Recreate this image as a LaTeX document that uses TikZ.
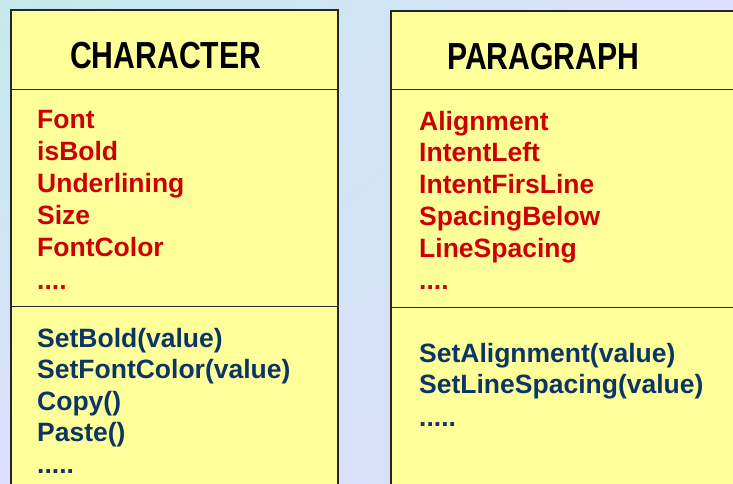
\documentclass[tikz,border=0pt]{standalone}
\usepackage{fontspec}
\usepackage{graphicx}
\usepackage{tikz}
\usetikzlibrary{positioning}
\usetikzlibrary{calc}
\usetikzlibrary{shadings}
\setmainfont{Liberation Sans}
\newcommand{\narrowtitle}[1]{\scalebox{0.8}[1]{#1}}
\definecolor{bgcyan}{HTML}{C5EAEC}
\definecolor{bglav}{HTML}{DDE0FC}
\definecolor{bgblue}{HTML}{D2E2F5}
\definecolor{boxyellow}{HTML}{FFFF99}
\definecolor{attrred}{HTML}{CC0000}
\definecolor{methblue}{HTML}{0B3566}
\tikzstyle{classbox}=[draw=black!85,fill=boxyellow,line width=1.1pt]
\tikzstyle{divider}=[draw=black!85,line width=1pt]

\begin{document}
\begin{tikzpicture}[x=1pt,y=-1pt,
  classname/.style={anchor=base west,inner sep=0pt,font=\bfseries\fontsize{37.7}{40}\selectfont},
  attr/.style={anchor=base west,inner sep=0pt,text=attrred,font=\bfseries\fontsize{26.5}{32}\selectfont},
  meth/.style={anchor=base west,inner sep=0pt,text=methblue,font=\bfseries\fontsize{26.5}{32}\selectfont}]
\useasboundingbox (0,0) rectangle (733,483);
\clip (0,0) rectangle (733,483);
\shade[upper left=bgcyan,upper right=bglav,lower left=bglav,lower right=bgblue] (0,0) rectangle (733,483);

% class CHARACTER
\draw[classbox] (11,10) rectangle (338,500);
\coordinate (C1) at (11,89);
\coordinate (C2) at (11,306);
\draw[divider] (C1) -- ++(327,0);
\draw[divider] (C2) -- ++(327,0);
\node[classname] (charname) at (70,68) {\narrowtitle{CHARACTER}};
\foreach \txt [count=\i] in {Font,isBold,Underlining,Size,FontColor}
  \node[attr] (charattr\i) at (37,{128.5+32.1*(\i-1)}) {\txt};
\node[attr] (charattr6) at (37,289) {....};
\foreach \txt [count=\i] in {SetBold(value),SetFontColor(value),Copy(),Paste()}
  \node[meth] (charmeth\i) at (37,{347+31.6*(\i-1)}) {\txt};
\node[meth] (charmeth5) at (37,473) {.....};

% class PARAGRAPH
\draw[classbox] (391,11) rectangle (750,500);
\coordinate (P1) at (391,89);
\coordinate (P2) at (391,307);
\draw[divider] (P1) -- ++(360,0);
\draw[divider] (P2) -- ++(360,0);
\node[classname] (paraname) at (447,69) {\narrowtitle{PARAGRAPH}};
\foreach \txt [count=\i] in {Alignment,IntentLeft,IntentFirsLine,SpacingBelow,LineSpacing}
  \node[attr] (paraattr\i) at (419,{130+31.8*(\i-1)}) {\txt};
\node[attr] (paraattr6) at (419,289) {....};
\foreach \txt [count=\i] in {SetAlignment(value),SetLineSpacing(value)}
  \node[meth] (parameth\i) at (419,{362+31.8*(\i-1)}) {\txt};
\node[meth] (parameth3) at (419,426) {.....};
\end{tikzpicture}
\end{document}
